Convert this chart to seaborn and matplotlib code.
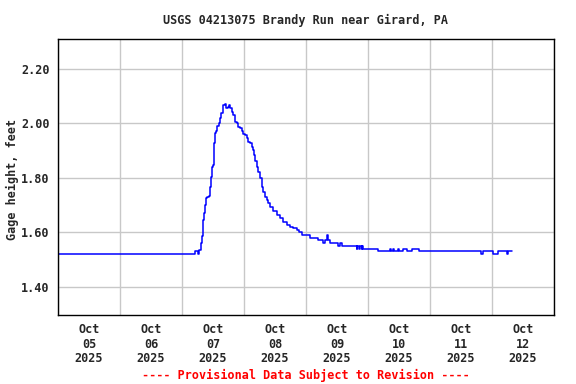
import pandas as pd
import matplotlib
matplotlib.use('Agg')
import matplotlib.pyplot as plt
import matplotlib.dates as mdates
import seaborn as sns

# Gage height readings, hours after 2025-10-05 00:00
hours = [0, 53.2, 54.3, 54.7, 55.2, 55.7, 56.3, 56.5, 56.9, 57.3, 57.8, 58.5, 58.8,
         59.3, 59.7, 60.0, 60.5, 60.8, 61.2, 61.7, 62.3, 62.7, 63.2, 63.7, 64.0,
         64.5, 64.9, 65.7, 66.2, 66.6, 67.2, 67.9, 68.5, 69.2, 69.8, 70.5, 71.1,
         71.7, 72.4, 73.0, 73.7, 74.3, 75.0, 75.4, 75.9, 76.4, 76.9, 77.5, 78.2,
         78.8, 79.5, 80.1, 80.8, 81.4, 82.1, 83.4, 84.6, 85.9, 87.2, 88.5, 89.8,
         91.1, 92.4, 93.4, 94.3, 97.5, 100.8, 102.7, 103.3, 104.2, 104.7, 105.3,
         108.5, 109.0, 109.8, 115.6, 115.9, 116.6, 116.9, 117.5, 117.8, 118.2,
         124.0, 128.5, 128.8, 129.8, 130.1, 131.7, 132.0, 133.4, 135.0, 137.0,
         139.9, 163.6, 164.4, 168.5, 170.4, 173.7, 174.1, 175.6]
gage_ft = [1.52, 1.53, 1.52, 1.535, 1.56, 1.586, 1.645, 1.67, 1.70, 1.725, 1.73, 1.732, 1.767,
           1.804, 1.84, 1.847, 1.927, 1.963, 1.97, 1.99, 2.00, 2.018, 2.037, 2.049, 2.067,
           2.07, 2.055, 2.06, 2.067, 2.055, 2.043, 2.03, 2.006, 2.00, 1.988, 1.982, 1.97,
           1.96, 1.957, 1.945, 1.933, 1.927, 1.914, 1.902, 1.884, 1.86, 1.84, 1.822, 1.798,
           1.767, 1.749, 1.731, 1.718, 1.706, 1.694, 1.679, 1.663, 1.651, 1.639, 1.627, 1.618,
           1.615, 1.608, 1.60, 1.59, 1.58, 1.57, 1.56, 1.57, 1.59, 1.57, 1.56,
           1.55, 1.56, 1.55, 1.54, 1.55, 1.54, 1.55, 1.54, 1.55, 1.54,
           1.53, 1.54, 1.53, 1.54, 1.53, 1.54, 1.53, 1.54, 1.53, 1.54,
           1.53, 1.52, 1.53, 1.52, 1.53, 1.52, 1.53, 1.53]

y_ticks = [1.40, 1.60, 1.80, 2.00, 2.20]
day_labels = ['Oct\n05\n2025', 'Oct\n06\n2025', 'Oct\n07\n2025', 'Oct\n08\n2025',
              'Oct\n09\n2025', 'Oct\n10\n2025', 'Oct\n11\n2025', 'Oct\n12\n2025']

start = pd.Timestamp('2025-10-05')
df = pd.DataFrame({'time': start + pd.to_timedelta(hours, unit='h'), 'gage': gage_ft})

sns.set_style('white')
plt.rcParams['font.family'] = ['DejaVu Sans Mono']
plt.rcParams['font.weight'] = 'bold'

fig = plt.figure(figsize=(5.76, 3.84), dpi=100)
ax = fig.add_axes([0.1007, 0.1797, 0.8611, 0.7187])

sns.lineplot(data=df, x='time', y='gage', color='#0000ff', linewidth=1.1,
             drawstyle='steps-post', ax=ax)

ax.set_xlim(start, start + pd.Timedelta(days=8))
ax.set_ylim(1.2965, 2.309)

# labels at noon, grid at midnight
noon = [start + pd.Timedelta(days=i, hours=12) for i in range(8)]
ax.set_xticks(noon)
ax.set_xticklabels(day_labels, fontsize=8.5, fontweight='bold', linespacing=1.15)
ax.xaxis.set_minor_locator(mdates.DayLocator())
ax.set_yticks(y_ticks)
ax.set_yticklabels(['%.2f' % v for v in y_ticks], fontsize=8.5, fontweight='bold')

ax.grid(False)
ax.grid(True, which='minor', axis='x', color='#c8c8c8', linewidth=1)
ax.grid(True, which='major', axis='y', color='#c8c8c8', linewidth=1)
ax.tick_params(which='both', length=0, pad=6)
for s in ax.spines.values():
    s.set_color('black')
    s.set_linewidth(1)

ax.set_xlabel('')
ax.set_ylabel('Gage height, feet', fontsize=8.5, fontweight='bold')
ax.yaxis.set_label_coords(-0.078, 0.49)

fig.text(0.531, 0.948, 'USGS 04213075 Brandy Run near Girard, PA',
         ha='center', va='center', fontsize=8.5, fontweight='bold')
fig.text(0.531, 0.023, '---- Provisional Data Subject to Revision ----',
         ha='center', va='center', fontsize=8.5, fontweight='bold', color='red')

fig.savefig('out.png', dpi=100)
